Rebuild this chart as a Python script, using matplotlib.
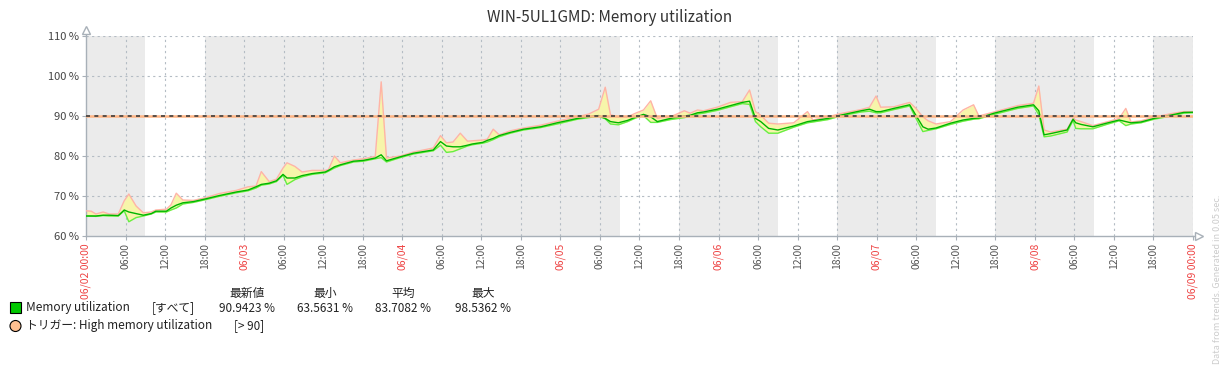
import matplotlib
matplotlib.use('Agg')
import matplotlib.pyplot as plt
from matplotlib.patches import Rectangle, Circle

plt.rcParams['font.family'] = ['Noto Sans CJK JP', 'DejaVu Sans']

# hours since 06/02 00:00
hours = [0, 0.8, 1.5, 2.6, 3.5, 4.9, 5.8, 6.5, 7.6, 8.7, 9.9, 10.6, 12.2, 12.9, 13.7,
         14.7, 16.3, 18.2, 20.2, 22.8, 24.6, 25.8, 26.6, 27.8, 28.9, 29.9, 30.5, 31.7,
         32.8, 34.3, 36.3, 36.8, 37.7, 38.6, 40.6, 42.1, 43.9, 44.8, 45.6, 47.7, 49.7,
         52.7, 53.8, 54.7, 55.7, 56.8, 57.9, 58.6, 60.2, 60.9, 61.8, 62.7, 64.4, 66.4,
         69.0, 71.5, 74.6, 76.3, 77.8, 78.8, 79.6, 80.8, 82.2, 83.4, 84.6, 85.7, 86.7,
         88.7, 90.8, 91.7, 92.8, 93.7, 95.8, 97.8, 99.6, 100.7, 101.6, 102.4, 103.6,
         105.0, 107.4, 109.5, 110.3, 112.6, 114.5, 117.6, 118.9, 119.9, 120.6, 122.6,
         125.0, 125.9, 127.0, 127.8, 129.0, 131.2, 133.1, 134.7, 135.5, 137.8, 141.4,
         143.8, 144.6, 145.4, 146.4, 148.9, 149.8, 150.2, 151.0, 152.8, 155.1, 156.8,
         157.8, 158.6, 160.1, 162.1, 164.7, 166.6, 167.9]
mem_min = [65.0, 65.0, 64.9, 65.1, 65.0, 65.0, 66.3, 63.56, 64.6, 65.0, 65.5, 66.0, 66.0,
           66.5, 67.0, 68.0, 68.4, 69.1, 69.9, 70.8, 71.3, 72.0, 72.7, 73.0, 73.6, 75.2,
           72.9, 74.1, 74.8, 75.4, 75.8, 76.2, 77.0, 77.6, 78.5, 78.7, 79.3, 79.6, 78.5,
           79.6, 80.5, 81.3, 82.7, 80.9, 81.1, 81.8, 82.5, 82.8, 83.2, 83.5, 84.1, 84.8,
           85.7, 86.5, 87.1, 88.0, 89.2, 89.6, 89.9, 89.3, 88.0, 87.8, 88.6, 89.5, 90.1,
           88.4, 88.4, 89.1, 89.6, 89.9, 90.5, 90.7, 91.4, 92.3, 93.1, 92.9, 88.6, 87.3,
           85.7, 85.7, 87.2, 88.3, 88.5, 89.1, 90.0, 91.0, 91.2, 90.8, 90.8, 91.6, 92.5,
           89.6, 86.1, 86.4, 86.8, 87.9, 88.7, 89.2, 89.3, 90.4, 91.9, 92.5, 90.3, 84.8,
           85.0, 86.0, 88.9, 86.9, 86.8, 86.8, 88.0, 88.8, 87.6, 88.0, 88.3, 89.2, 90.0,
           90.7, 90.8]
mem_avg = [65.0, 65.0, 65.0, 65.2, 65.2, 65.1, 66.5, 66.0, 65.6, 65.2, 65.6, 66.2, 66.2,
           67.0, 67.7, 68.3, 68.6, 69.3, 70.1, 71.0, 71.5, 72.3, 72.9, 73.2, 73.8, 75.4,
           74.5, 74.5, 75.1, 75.6, 76.0, 76.4, 77.3, 77.8, 78.7, 78.9, 79.5, 80.3, 78.8,
           79.8, 80.7, 81.5, 83.6, 82.5, 82.3, 82.3, 82.7, 83.0, 83.4, 83.9, 84.4, 85.1,
           85.9, 86.7, 87.3, 88.3, 89.4, 89.8, 90.1, 89.4, 88.6, 88.3, 88.9, 89.7, 90.4,
           89.8, 88.6, 89.4, 90.0, 90.2, 90.8, 91.0, 91.7, 92.6, 93.4, 93.7, 89.4, 88.6,
           86.9, 86.5, 87.5, 88.6, 88.8, 89.4, 90.2, 91.3, 91.7, 91.1, 91.1, 91.9, 92.8,
           90.3, 87.3, 86.7, 87.0, 88.2, 89.0, 89.4, 89.5, 90.7, 92.2, 92.8, 91.3, 85.3,
           85.6, 86.5, 89.2, 88.3, 87.9, 87.3, 88.3, 89.0, 88.6, 88.3, 88.5, 89.4, 90.25,
           90.9, 90.94]
mem_max = [66.3, 66.2, 65.5, 66.0, 65.5, 65.5, 68.8, 70.5, 67.5, 65.8, 66.0, 66.5, 66.7,
           67.8, 70.7, 69.0, 68.9, 69.6, 70.6, 71.4, 72.3, 72.5, 76.1, 73.6, 74.2, 77.0,
           78.3, 77.4, 76.0, 76.4, 76.4, 76.6, 80.0, 78.3, 79.0, 79.3, 79.9, 98.54, 79.5,
           80.0, 81.0, 82.0, 85.1, 83.3, 83.5, 85.7, 83.7, 83.8, 84.0, 84.2, 86.7, 85.3,
           86.3, 87.0, 87.7, 88.7, 89.8, 90.5, 91.7, 97.2, 90.3, 89.8, 89.8, 90.7, 91.5,
           93.8, 89.4, 89.8, 91.3, 90.7, 91.5, 91.3, 92.2, 93.4, 93.6, 96.5, 91.1, 90.2,
           88.2, 88.0, 88.3, 91.1, 89.0, 89.8, 90.6, 91.6, 92.2, 95.0, 92.2, 92.3, 93.4,
           92.0, 89.8, 88.8, 88.0, 88.6, 91.5, 92.8, 90.0, 91.0, 92.6, 93.2, 97.5, 86.5,
           86.0, 86.7, 89.4, 89.0, 88.6, 87.6, 88.6, 89.4, 91.9, 88.5, 88.8, 89.7, 90.6,
           91.1, 91.1]

work_periods = [(9, 18), (81, 90), (105, 114), (129, 138), (153, 162)]
threshold = 90
tick_hours = list(range(0, 169, 6))
tick_labels = ['06/02 00:00', '06:00', '12:00', '18:00', '06/03', '06:00', '12:00', '18:00',
               '06/04', '06:00', '12:00', '18:00', '06/05', '06:00', '12:00', '18:00',
               '06/06', '06:00', '12:00', '18:00', '06/07', '06:00', '12:00', '18:00',
               '06/08', '06:00', '12:00', '18:00', '06/09 00:00']
yticks = [60, 70, 80, 90, 100, 110]

legend_headers = ['最新値', '最小', '平均', '最大']
legend_values = ['90.9423 %', '63.5631 %', '83.7082 %', '98.5362 %']

W, H = 1223, 368
fig = plt.figure(figsize=(W / 100, H / 100), dpi=100)
x0, x1, y0, y1 = 86, 1193, 36, 236
ax = fig.add_axes([x0 / W, 1 - y1 / H, (x1 - x0) / W, (y1 - y0) / H])

ax.set_facecolor('#ebebeb')
for a, b in work_periods:
    ax.axvspan(a, b, color='white', lw=0, zorder=0)

grid_c = '#b4bcc4'
for h in tick_hours[1:-1]:
    ax.axvline(h, color=grid_c, lw=0.8, ls=(0, (2, 3)), zorder=1)
for v in yticks[1:]:
    ax.axhline(v, color=grid_c, lw=0.8, ls=(0, (2, 3)), zorder=1)
ax.axvline(168, color=grid_c, lw=0.8, ls=(0, (2, 3)), zorder=1)

ax.fill_between(hours, mem_min, mem_max, color='#f7f5aa', lw=0, zorder=2)
ax.plot(hours, mem_max, color='#ffb4a6', lw=1, zorder=3)
ax.plot(hours, mem_min, color='#66ee44', lw=1, zorder=3)
ax.plot(hours, mem_avg, color='#00b400', lw=1.0, zorder=4)

ax.axhline(threshold, color='#ffb585', lw=1.8, zorder=5)
ax.axhline(threshold, color='#3c3c3c', lw=1.2, dashes=(2.4, 2.6), zorder=6)

ax.set_xlim(0, 168)
ax.set_ylim(60, 110)
ax.set_yticks(yticks)
ax.set_yticklabels([f'{v} %' for v in yticks], fontsize=8, color='#444444')
ax.set_xticks(tick_hours)
ax.set_xticklabels(tick_labels, rotation=90, fontsize=7.5, va='top', ha='center')
for i, lab in enumerate(ax.get_xticklabels()):
    lab.set_color('#ee4444' if i % 4 == 0 else '#555555')
ax.tick_params(axis='both', length=3, width=0.8, color='#a8b0b8', pad=2)
for s in ['top', 'right']:
    ax.spines[s].set_visible(False)
for s in ['left', 'bottom']:
    ax.spines[s].set_color('#a8b0b8')
    ax.spines[s].set_linewidth(1)

# axis arrows
ax.plot([0, 0], [1, 1.03], transform=ax.transAxes, color='#a8b0b8', lw=1, clip_on=False)
ax.plot([0], [1.03], transform=ax.transAxes, marker='^', ms=6, mfc='white',
        mec='#a8b0b8', clip_on=False)
ax.plot([1, 1.004], [0, 0], transform=ax.transAxes, color='#a8b0b8', lw=1, clip_on=False)
ax.plot([1.005], [0], transform=ax.transAxes, marker='>', ms=6, mfc='white',
        mec='#a8b0b8', clip_on=False)

# overlay in pixel coords for title and legend
ov = fig.add_axes([0, 0, 1, 1], facecolor='none')
ov.set_xlim(0, W)
ov.set_ylim(H, 0)
ov.axis('off')

ov.text(610, 18, 'WIN-5UL1GMD: Memory utilization', ha='center', va='center',
        fontsize=11, color='#333333')

hx = [247, 325, 403, 483]
for x, t in zip(hx, legend_headers):
    ov.text(x, 293, t, ha='center', va='center', fontsize=8.5, color='#222222')
ov.add_patch(Rectangle((10, 302), 11, 11, facecolor='#00c800', edgecolor='black', lw=0.8))
ov.text(26, 308, 'Memory utilization', ha='left', va='center', fontsize=8.5, color='#222222')
ov.text(152, 308, '[すべて]', ha='left', va='center', fontsize=8.5, color='#222222')
for x, t in zip(hx, legend_values):
    ov.text(x, 308, t, ha='center', va='center', fontsize=8.5, color='#222222')
ov.add_patch(Circle((15.5, 326), 5.5, facecolor='#ffbf90', edgecolor='black', lw=0.8))
ov.text(26, 326, 'トリガー: High memory utilization', ha='left', va='center',
        fontsize=8.5, color='#222222')
ov.text(234, 326, '[> 90]', ha='left', va='center', fontsize=8.5, color='#222222')

ov.text(1218, 364, 'Data from trends. Generated in 0.05 sec.', rotation=90, ha='center',
        va='bottom', fontsize=6.5, color='#cccccc')

fig.savefig('out.png', dpi=100)
